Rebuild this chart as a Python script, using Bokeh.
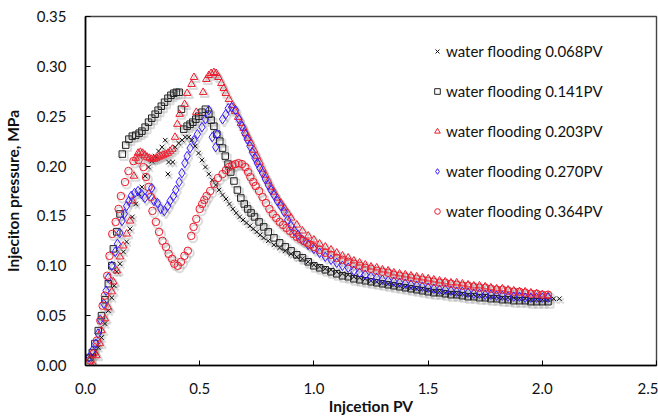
import math
from bokeh.plotting import figure
from bokeh.models import Range1d, FixedTicker, NumeralTickFormatter, Legend, LegendItem, ColumnDataSource
from bokeh.embed import file_html
from bokeh.resources import INLINE

labels = ["water flooding 0.068PV", "water flooding 0.141PV", "water flooding 0.203PV",
          "water flooding 0.270PV", "water flooding 0.364PV"]
x_ticks = [0.0, 0.5, 1.0, 1.5, 2.0, 2.5]
y_ticks = [0.0, 0.05, 0.10, 0.15, 0.20, 0.25, 0.30, 0.35]

tail_x = [1.0, 1.025, 1.05, 1.075, 1.1, 1.125, 1.15, 1.175, 1.2, 1.225, 1.25, 1.275, 1.3, 1.325,
          1.35, 1.375, 1.4, 1.425, 1.45, 1.475, 1.5, 1.525, 1.55, 1.575, 1.6, 1.625, 1.65, 1.675,
          1.7, 1.725, 1.75, 1.775, 1.8, 1.825, 1.85, 1.875, 1.9, 1.925, 1.95, 1.975, 2.0, 2.025]

# water flooding 0.068PV (black x)
s1_x = [0.019, 0.03, 0.045, 0.056, 0.07, 0.085, 0.1, 0.115, 0.126, 0.137, 0.151, 0.166, 0.18, 0.195,
        0.205, 0.22, 0.235, 0.247, 0.261, 0.276, 0.29, 0.305, 0.32, 0.335, 0.349, 0.361, 0.364, 0.382,
        0.393, 0.408, 0.423, 0.437, 0.452,
        0.465, 0.48, 0.495, 0.51, 0.525, 0.54, 0.555, 0.57, 0.585, 0.6, 0.615, 0.63, 0.645, 0.66,
        0.675, 0.69, 0.705, 0.72, 0.735, 0.75, 0.765, 0.78, 0.8, 0.825, 0.85, 0.875, 0.9, 0.925,
        0.95, 0.975]
s1_y = [0.008, 0.010, 0.014, 0.018, 0.028, 0.042, 0.055, 0.068, 0.080, 0.094, 0.102, 0.114, 0.124,
        0.137, 0.149, 0.162, 0.172, 0.179, 0.190, 0.199, 0.205, 0.210, 0.215, 0.219, 0.226, 0.192,
        0.204, 0.204, 0.219, 0.223, 0.226, 0.229, 0.229,
        0.226, 0.220, 0.213, 0.206, 0.199, 0.192, 0.186, 0.181, 0.176, 0.171, 0.167, 0.162, 0.157,
        0.153, 0.149, 0.146, 0.143, 0.140, 0.137, 0.134, 0.131, 0.128, 0.125, 0.121, 0.118, 0.115,
        0.112, 0.109, 0.107, 0.104]
s1_tail_y = [0.101, 0.099, 0.097, 0.096, 0.094, 0.092, 0.091, 0.089, 0.088, 0.087, 0.085, 0.084,
             0.083, 0.082, 0.081, 0.080, 0.079, 0.078, 0.077, 0.077, 0.076, 0.075, 0.074, 0.073,
             0.073, 0.072, 0.072, 0.071, 0.071, 0.070, 0.070, 0.069, 0.069, 0.068, 0.068, 0.068,
             0.067, 0.067, 0.066, 0.066, 0.066, 0.066]
s1_end_x = [2.05, 2.075]
s1_end_y = [0.067, 0.067]

# water flooding 0.141PV (black squares)
s2_x = [0.019, 0.03, 0.041, 0.056, 0.07, 0.085, 0.1, 0.115, 0.122, 0.137, 0.151, 0.161, 0.176, 0.19,
        0.205, 0.22, 0.235, 0.247, 0.261, 0.276, 0.29, 0.305, 0.318, 0.332, 0.346, 0.361, 0.374,
        0.386, 0.398, 0.41, 0.42, 0.43, 0.445, 0.458, 0.47, 0.483, 0.496, 0.51, 0.525, 0.54, 0.55,
        0.562, 0.575, 0.588, 0.6, 0.612, 0.624, 0.636, 0.65, 0.665, 0.68, 0.695, 0.71, 0.725, 0.74,
        0.76, 0.78, 0.8, 0.825, 0.85, 0.875, 0.9, 0.925, 0.95, 0.975]
s2_y = [0.008, 0.013, 0.022, 0.035, 0.050, 0.066, 0.082, 0.100, 0.117, 0.134, 0.152, 0.212, 0.221,
        0.227, 0.230, 0.231, 0.233, 0.235, 0.239, 0.244, 0.248, 0.252, 0.256, 0.260, 0.264, 0.268,
        0.271, 0.273, 0.274, 0.274, 0.257, 0.237, 0.240, 0.242, 0.244, 0.247, 0.250, 0.254, 0.257,
        0.252, 0.246, 0.240, 0.232, 0.225, 0.218, 0.210, 0.202, 0.194, 0.185, 0.176, 0.168, 0.162,
        0.157, 0.153, 0.149, 0.144, 0.139, 0.134, 0.128, 0.123, 0.119, 0.115, 0.111, 0.108, 0.104]
s2_tail_y = [0.100, 0.098, 0.096, 0.094, 0.092, 0.090, 0.089, 0.087, 0.086, 0.085, 0.084, 0.083,
             0.082, 0.081, 0.080, 0.079, 0.078, 0.077, 0.076, 0.075, 0.074, 0.073, 0.073, 0.072,
             0.071, 0.071, 0.070, 0.069, 0.069, 0.068, 0.068, 0.067, 0.067, 0.066, 0.066, 0.065,
             0.065, 0.065, 0.064, 0.064, 0.064, 0.064]

# water flooding 0.203PV (red triangles)
s3_x = [0.026, 0.037, 0.048, 0.063, 0.07, 0.085, 0.1, 0.115, 0.122, 0.137, 0.151, 0.165, 0.18, 0.195,
        0.205, 0.212, 0.22, 0.23, 0.24, 0.25, 0.26, 0.27, 0.28, 0.29, 0.30, 0.31, 0.32, 0.33, 0.34,
        0.35, 0.36, 0.37, 0.38, 0.392, 0.402, 0.412, 0.434, 0.445, 0.464, 0.475, 0.485, 0.515, 0.529,
        0.54, 0.55, 0.562, 0.572, 0.582, 0.595, 0.605, 0.614, 0.628, 0.643, 0.655, 0.668, 0.68,
        0.692, 0.702, 0.713, 0.724, 0.738, 0.75, 0.762, 0.775, 0.787, 0.8, 0.812, 0.825, 0.84,
        0.855, 0.87, 0.885, 0.9, 0.925, 0.95, 0.975]
s3_y = [0.0, 0.0, 0.010, 0.022, 0.035, 0.047, 0.058, 0.074, 0.084, 0.095, 0.109, 0.120, 0.132, 0.145,
        0.165, 0.190, 0.208, 0.213, 0.214, 0.213, 0.211, 0.209, 0.208, 0.207, 0.207, 0.208, 0.209,
        0.210, 0.211, 0.212, 0.213, 0.215, 0.217, 0.229, 0.242, 0.252, 0.262, 0.273, 0.282, 0.289,
        0.254, 0.274, 0.287, 0.291, 0.293, 0.294, 0.293, 0.289, 0.283, 0.278, 0.273, 0.267, 0.261,
        0.255, 0.249, 0.243, 0.238, 0.233, 0.228, 0.223, 0.216, 0.210, 0.204, 0.197, 0.191, 0.185,
        0.179, 0.174, 0.168, 0.163, 0.158, 0.153, 0.148, 0.141, 0.135, 0.130]
s3_tail_y = [0.126, 0.122, 0.119, 0.116, 0.113, 0.110, 0.108, 0.105, 0.103, 0.101, 0.099, 0.098,
             0.096, 0.095, 0.093, 0.092, 0.091, 0.090, 0.089, 0.088, 0.087, 0.086, 0.085, 0.084,
             0.083, 0.083, 0.082, 0.081, 0.080, 0.080, 0.079, 0.078, 0.077, 0.077, 0.076, 0.075,
             0.074, 0.074, 0.073, 0.072, 0.071, 0.070]

# water flooding 0.270PV (blue diamonds)
s4_x = [0.015, 0.03, 0.045, 0.055, 0.065, 0.08, 0.09, 0.1, 0.115, 0.13, 0.14, 0.15, 0.16, 0.17, 0.18,
        0.19, 0.2, 0.215, 0.23, 0.245, 0.26, 0.277, 0.29, 0.3, 0.315, 0.33, 0.345, 0.36, 0.37, 0.385,
        0.395, 0.41, 0.422, 0.435, 0.445, 0.458, 0.475, 0.49, 0.51, 0.525, 0.54, 0.555, 0.57, 0.577,
        0.6, 0.614, 0.625, 0.64, 0.657, 0.672, 0.685, 0.697, 0.708, 0.72, 0.73, 0.742, 0.752, 0.763,
        0.775, 0.787, 0.8, 0.812, 0.825, 0.84, 0.855, 0.87, 0.885, 0.9, 0.915, 0.93, 0.95, 0.975]
s4_y = [0.008, 0.015, 0.022, 0.032, 0.046, 0.062, 0.075, 0.088, 0.100, 0.114, 0.122, 0.133, 0.145,
        0.152, 0.160, 0.165, 0.170, 0.173, 0.175, 0.172, 0.168, 0.172, 0.178, 0.165, 0.163, 0.157,
        0.155, 0.160, 0.165, 0.170, 0.176, 0.184, 0.193, 0.203, 0.210, 0.218, 0.226, 0.232, 0.239,
        0.247, 0.256, 0.229, 0.219, 0.232, 0.247, 0.252, 0.258, 0.259, 0.256, 0.247, 0.240, 0.233,
        0.227, 0.220, 0.214, 0.208, 0.203, 0.198, 0.193, 0.187, 0.181, 0.176, 0.171, 0.165, 0.160,
        0.154, 0.146, 0.140, 0.135, 0.131, 0.126, 0.121]
s4_tail_y = [0.117, 0.113, 0.109, 0.106, 0.103, 0.100, 0.098, 0.095, 0.093, 0.091, 0.089, 0.088,
             0.086, 0.085, 0.084, 0.083, 0.082, 0.081, 0.080, 0.079, 0.078, 0.077, 0.076, 0.076,
             0.075, 0.074, 0.074, 0.073, 0.072, 0.072, 0.071, 0.071, 0.070, 0.070, 0.069, 0.069,
             0.069, 0.068, 0.068, 0.068, 0.068, 0.068]

# water flooding 0.364PV (red circles)
s5_x = [0.02, 0.035, 0.05, 0.065, 0.075, 0.085, 0.095, 0.105, 0.117, 0.132, 0.145, 0.155, 0.173, 0.188,
        0.21, 0.232, 0.254, 0.265, 0.276, 0.286, 0.293, 0.308, 0.322, 0.337, 0.352, 0.364, 0.379,
        0.389, 0.404, 0.418, 0.433, 0.448, 0.463, 0.473, 0.485, 0.5, 0.511, 0.52, 0.53, 0.546, 0.564,
        0.58, 0.6, 0.615, 0.628, 0.643, 0.657, 0.67, 0.685, 0.7, 0.712, 0.722, 0.735, 0.745, 0.76,
        0.775, 0.79, 0.805, 0.82, 0.835, 0.85, 0.865, 0.88, 0.895, 0.91, 0.925, 0.94, 0.955, 0.97,
        0.985]
s5_y = [0.005, 0.012, 0.025, 0.045, 0.060, 0.070, 0.090, 0.110, 0.132, 0.144, 0.157, 0.170, 0.184,
        0.195, 0.205, 0.206, 0.199, 0.189, 0.179, 0.169, 0.155, 0.144, 0.134, 0.125, 0.119, 0.112,
        0.107, 0.102, 0.100, 0.104, 0.110, 0.115, 0.130, 0.139, 0.147, 0.157, 0.162, 0.166, 0.170,
        0.175, 0.182, 0.188, 0.192, 0.196, 0.199, 0.201, 0.202, 0.203, 0.202, 0.199, 0.194, 0.189,
        0.184, 0.180, 0.175, 0.169, 0.163, 0.157, 0.152, 0.148, 0.144, 0.141, 0.138, 0.135, 0.132,
        0.129, 0.127, 0.125, 0.123, 0.121]
s5_tail_y = [0.119, 0.116, 0.113, 0.111, 0.108, 0.106, 0.104, 0.102, 0.100, 0.098, 0.097, 0.095,
             0.094, 0.093, 0.091, 0.090, 0.089, 0.088, 0.087, 0.086, 0.085, 0.084, 0.083, 0.083,
             0.082, 0.081, 0.080, 0.080, 0.079, 0.078, 0.078, 0.077, 0.076, 0.076, 0.075, 0.074,
             0.074, 0.073, 0.072, 0.072, 0.071, 0.071]

series = [
    (s1_x + tail_x + s1_end_x, s1_y + s1_tail_y + s1_end_y),
    (s2_x + tail_x, s2_y + s2_tail_y),
    (s3_x + tail_x, s3_y + s3_tail_y),
    (s4_x + tail_x, s4_y + s4_tail_y),
    (s5_x + tail_x, s5_y + s5_tail_y),
]

RED = "#ee1c2e"
BLUE = "#3a1cff"
styles = [
    dict(marker="x", size=6.5, line_color="#111111"),
    dict(marker="square", size=6.5, line_color="#222222"),
    dict(marker="triangle", size=7.5, line_color=RED),
    dict(marker="diamond", size=9.5, line_color=BLUE),
    dict(marker="circle", size=7.5, line_color=RED),
]

FONT = "Lato"

p = figure(width=658, height=418, output_backend="svg", toolbar_location=None,
           x_range=Range1d(0, 2.5), y_range=Range1d(0, 0.35),
           min_border_left=84, min_border_right=2, min_border_top=16, min_border_bottom=53)
p.background_fill_color = "white"
p.border_fill_color = "white"
p.xgrid.visible = False
p.ygrid.visible = False
p.outline_line_color = "#444444"
p.outline_line_width = 1.4

# soft drop shadows (Excel style), offset from each data point
dx, dy = 0.0075, -0.0022
for (xs, ys), st in zip(series, styles):
    src = ColumnDataSource(dict(x=[v + dx for v in xs], y=[v + dy for v in ys]))
    p.scatter("x", "y", source=src, marker=st["marker"], size=st["size"] + 1,
              fill_color=None, line_color="#9a9a9a", line_alpha=0.35, line_width=2)

items = []
for (xs, ys), st, lab in zip(series, styles, labels):
    src = ColumnDataSource(dict(x=xs, y=ys))
    r = p.scatter("x", "y", source=src, marker=st["marker"], size=st["size"],
                  fill_color=None, line_color=st["line_color"], line_width=1)
    items.append(LegendItem(label=lab, renderers=[r]))

legend = Legend(items=items, location=(345, 145), orientation="vertical")
legend.border_line_color = None
legend.background_fill_alpha = 0
legend.padding = 0
legend.margin = 0
legend.spacing = 22
legend.glyph_width = 14
legend.glyph_height = 16
legend.label_standoff = 2
legend.label_text_font = FONT
legend.label_text_font_size = "15px"
legend.label_text_color = "#111111"
p.add_layout(legend)

xa = p.xaxis[0]
ya = p.yaxis[0]
xa.ticker = FixedTicker(ticks=x_ticks)
ya.ticker = FixedTicker(ticks=y_ticks)
xa.formatter = NumeralTickFormatter(format="0.0")
ya.formatter = NumeralTickFormatter(format="0.00")
for ax in (xa, ya):
    ax.major_tick_in = 5
    ax.major_tick_out = 0
    ax.minor_tick_line_color = None
    ax.axis_line_color = "black"
    ax.axis_line_width = 1.6
    ax.major_tick_line_color = "black"
    ax.major_tick_line_width = 1
    ax.major_label_text_font = FONT
    ax.major_label_text_font_size = "15px"
    ax.major_label_text_color = "#111111"
    ax.axis_label_text_font = FONT
    ax.axis_label_text_font_size = "15.5px"
    ax.axis_label_text_font_style = "bold"
    ax.axis_label_text_color = "#111111"

xa.axis_label = "Injcetion PV"
ya.axis_label = "Injeciton pressure, MPa"
xa.major_label_standoff = 17
xa.axis_label_standoff = 0
ya.major_label_standoff = 19
ya.axis_label_standoff = 12

open("out.html", "w").write(file_html(p, INLINE))
